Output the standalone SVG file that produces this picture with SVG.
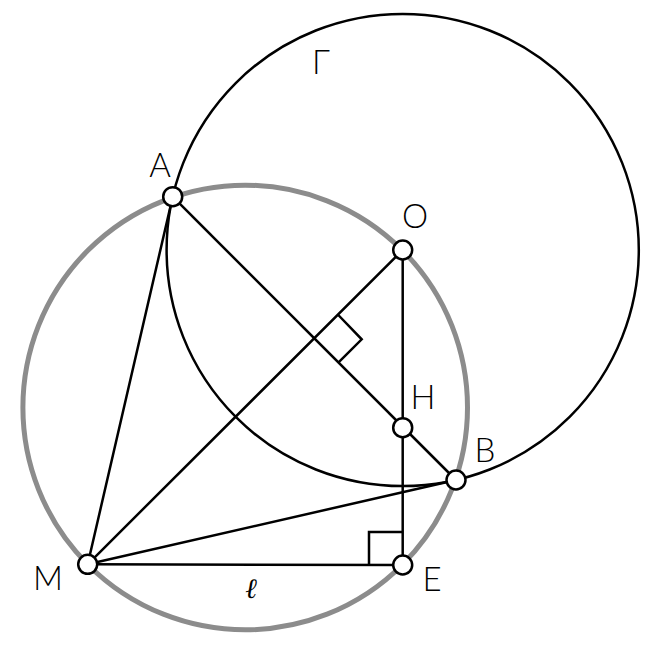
<svg xmlns="http://www.w3.org/2000/svg" width="652" height="646" viewBox="0 0 652 646">
<style>
.ln{stroke:#000;stroke-width:2.5;fill:none;stroke-linecap:round}
.pt{fill:#fff;stroke:#000;stroke-width:2.5}
.lb{font-family:"Lato","DejaVu Sans",sans-serif;font-weight:300;font-size:33px;fill:#000;text-anchor:middle}
</style>
<rect width="652" height="646" fill="#fff"/>
<g id="circle-gray"><circle cx="245.2" cy="407.5" r="222.3" fill="none" stroke="#8c8c8c" stroke-width="5"/></g>
<g id="circle-gamma"><circle cx="402.7" cy="250" r="236.1" class="ln"/></g>
<g id="connectors">
<line class="ln" x1="172.7" y1="196.7" x2="87.7" y2="564.3"/>
<line class="ln" x1="172.7" y1="196.7" x2="456" y2="480"/>
<line class="ln" x1="87.7" y1="564.3" x2="402.7" y2="250"/>
<line class="ln" x1="402.7" y1="250" x2="402.7" y2="565"/>
<line class="ln" x1="87.7" y1="564.3" x2="456" y2="480"/>
<line class="ln" x1="87.7" y1="564.3" x2="402.7" y2="565"/>
<polyline class="ln" points="338.3,315 361.7,339.3 338.3,362.7" style="stroke-linecap:butt"/>
<polyline class="ln" points="369,565 369,532 402.7,532" style="stroke-linecap:butt"/>
</g>
<g id="node-A"><circle class="pt" cx="172.7" cy="196.7" r="9.5"/><text class="lb" x="160" y="177">A</text></g>
<g id="node-O"><circle class="pt" cx="402.7" cy="250" r="9.5"/><text class="lb" x="415" y="228">O</text></g>
<g id="node-H"><circle class="pt" cx="402.7" cy="427.7" r="9.5"/><text class="lb" x="423" y="409">H</text></g>
<g id="node-B"><circle class="pt" cx="456" cy="480" r="9.5"/><text class="lb" x="485" y="462">B</text></g>
<g id="node-M"><circle class="pt" cx="87.7" cy="564.3" r="9.5"/><text class="lb" x="48" y="590">M</text></g>
<g id="node-E"><circle class="pt" cx="402.7" cy="565" r="9.5"/><text class="lb" x="432" y="591">E</text></g>
<g id="label-ell"><text x="251" y="598" style="font-family:'Liberation Serif',serif;font-style:italic;font-size:28px;text-anchor:middle">ℓ</text></g>
<g id="label-gamma"><text class="lb" x="321" y="74">Γ</text></g>
</svg>
